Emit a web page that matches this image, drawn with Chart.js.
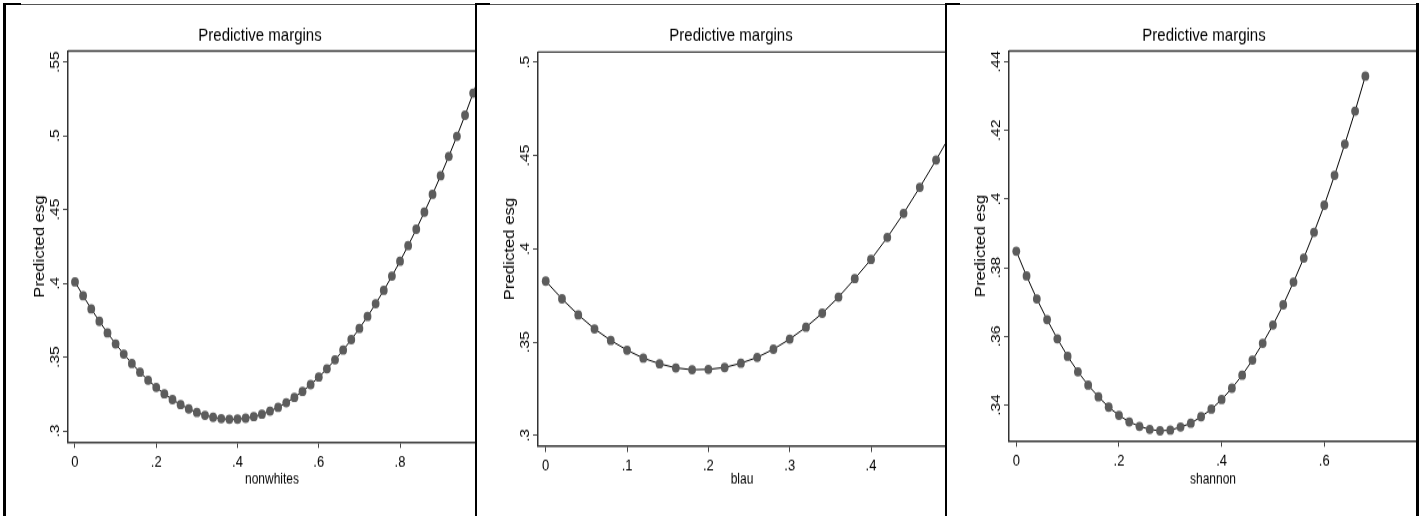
<!DOCTYPE html>
<html>
<head>
<meta charset="utf-8">
<script src="https://cdn.jsdelivr.net/npm/chart.js@4.4.1/dist/chart.umd.min.js"></script>
<style>
  body { margin: 0; background: #fff; width: 1424px; height: 516px; position: relative; overflow: hidden; }
  .panel { position: absolute; top: 0; height: 516px; overflow: hidden; }
  .panel canvas { position: absolute; left: 0; top: 0; transform: scaleY(1.2); transform-origin: 0 0; }
  .ln { position: absolute; background: #000; }
</style>
</head>
<body>
<div class="panel" style="left:7px;width:468px"><canvas id="c1" width="506" height="430"></canvas></div>
<div class="panel" style="left:477px;width:468px"><canvas id="c2" width="508" height="430"></canvas></div>
<div class="panel" style="left:947px;width:469px"><canvas id="c3" width="514" height="430"></canvas></div>

<!-- рамка вокруг графиков -->
<div class="ln" style="left:3px;top:4px;width:1416px;height:1px;background:#555"></div>
<div class="ln" style="left:3px;top:3px;width:18px;height:2px"></div>
<div class="ln" style="left:476px;top:3px;width:14px;height:2px"></div>
<div class="ln" style="left:946px;top:3px;width:14px;height:2px"></div>
<div class="ln" style="left:3px;top:3px;width:3px;height:513px"></div>
<div class="ln" style="left:475px;top:3px;width:2px;height:513px"></div>
<div class="ln" style="left:945px;top:3px;width:2px;height:513px"></div>
<div class="ln" style="left:1416px;top:3px;width:3px;height:513px"></div>

<script>
// ======== Данные ========
const nonwhitesX = [0, .02, .04, .06, .08, .10, .12, .14, .16, .18, .20, .22, .24, .26, .28, .30, .32, .34, .36, .38,
  .40, .42, .44, .46, .48, .50, .52, .54, .56, .58, .60, .62, .64, .66, .68, .70, .72, .74, .76, .78,
  .80, .82, .84, .86, .88, .90, .92, .94, .96, .98, 1.0];
const nonwhitesY = [.4010, .3916, .3827, .3743, .3664, .3590, .3521, .3457, .3398, .3344, .3295, .3251, .3212, .3178,
  .3149, .3125, .3106, .3092, .3083, .3079, .3080, .3086, .3097, .3113, .3134, .3160, .3191, .3227, .3268,
  .3314, .3365, .3421, .3482, .3548, .3619, .3695, .3776, .3862, .3953, .4049, .4150, .4256, .4367, .4483,
  .4604, .4730, .4861, .4997, .5140, .5290, .5440];

const blauX = [0, .02, .04, .06, .08, .10, .12, .14, .16, .18, .20, .22, .24, .26, .28, .30, .32, .34, .36, .38,
  .40, .42, .44, .46, .48, .50];
const blauY = [.3827, .3732, .3646, .3571, .3509, .3457, .3414, .3384, .3362, .3352, .3354, .3364, .3387, .3418,
  .3462, .3516, .3580, .3655, .3741, .3840, .3943, .4061, .4190, .4330, .4476, .4630];

const shannonX = [0, .02, .04, .06, .08, .10, .12, .14, .16, .18, .20, .22, .24, .26, .28, .30, .32, .34, .36, .38,
  .40, .42, .44, .46, .48, .50, .52, .54, .56, .58, .60, .62, .64, .66, .68];
const shannonY = [.3848, .3776, .3709, .3649, .3593, .3542, .3497, .3458, .3424, .3394, .3370, .3351, .3338, .3329,
  .3325, .3327, .3336, .3347, .3366, .3388, .3416, .3449, .3487, .3531, .3580, .3633, .3692, .3758, .3828,
  .3903, .3982, .4069, .4160, .4256, .4358];

const xTicks1 = [0, .2, .4, .6, .8];
const xLabels1 = ['0', '.2', '.4', '.6', '.8'];
const yTicks1 = [.3, .35, .4, .45, .5, .55];
const yLabels1 = ['.3', '.35', '.4', '.45', '.5', '.55'];

const xTicks2 = [0, .1, .2, .3, .4];
const xLabels2 = ['0', '.1', '.2', '.3', '.4'];
const yTicks2 = [.3, .35, .4, .45, .5];
const yLabels2 = ['.3', '.35', '.4', '.45', '.5'];

const xTicks3 = [0, .2, .4, .6];
const xLabels3 = ['0', '.2', '.4', '.6'];
const yTicks3 = [.34, .36, .38, .4, .42, .44];
const yLabels3 = ['.34', '.36', '.38', '.4', '.42', '.44'];

const FONT = 'Liberation Sans, Arial, sans-serif';

// ======== Плагины: рамка сверху и заголовок ========
const frameTop = {
  id: 'frameTop',
  afterDatasetsDraw(chart) {
    const { ctx, chartArea: a } = chart;
    ctx.save();
    ctx.strokeStyle = '#333';
    ctx.lineWidth = 1.3;
    ctx.beginPath();
    ctx.moveTo(a.left, a.top);
    ctx.lineTo(a.right, a.top);
    ctx.stroke();
    ctx.restore();
  }
};

// заголовок по центру всего холста (картинка справа обрезана)
const mainTitle = {
  id: 'mainTitle',
  afterDraw(chart, args, opts) {
    const ctx = chart.ctx;
    ctx.save();
    ctx.fillStyle = '#000';
    ctx.font = `15px ${FONT}`;
    ctx.textAlign = 'center';
    ctx.textBaseline = 'middle';
    ctx.fillText(opts.text, chart.width / 2, opts.y);
    ctx.restore();
  }
};

// ======== Один график ========
function makePanel(id, xs, ys, xTitle, xRange, yRange, xTicks, xLabels, yTicks, yLabels, g) {
  const pts = xs.map((x, i) => ({ x, y: ys[i] }));

  new Chart(document.getElementById(id), {
    type: 'scatter',
    data: {
      datasets: [{
        data: pts,
        showLine: true,
        borderColor: '#000',
        borderWidth: 1,
        pointRadius: 3.9,
        pointBorderWidth: 0,
        pointBackgroundColor: '#5c5c5c',
        tension: 0
      }]
    },
    options: {
      responsive: false,
      animation: false,
      layout: { padding: { left: 0, right: g.padRight, top: g.padTop, bottom: 0 } },
      plugins: {
        legend: { display: false },
        tooltip: { enabled: false },
        title: { display: false },
        mainTitle: { text: 'Predictive margins', y: 29.4 }
      },
      scales: {
        x: {
          type: 'linear',
          min: xRange[0],
          max: xRange[1],
          afterBuildTicks: s => { s.ticks = xTicks.map(v => ({ value: v })); },
          afterFit: s => { s.height = g.xHeight; },
          ticks: {
            callback: (v, i) => xLabels[i],
            color: '#000',
            font: { family: FONT, size: 13 },
            padding: 4,
            maxRotation: 0,
            autoSkip: false
          },
          grid: { drawOnChartArea: false, drawTicks: true, tickLength: 5, tickColor: '#444', tickWidth: 1 },
          border: { display: true, color: '#333', width: 1.5 },
          title: {
            display: true,
            text: xTitle,
            color: '#000',
            font: { family: FONT, size: 12 },
            padding: { top: 0, bottom: g.xTitlePad }
          }
        },
        y: {
          type: 'linear',
          min: yRange[0],
          max: yRange[1],
          afterBuildTicks: s => { s.ticks = yTicks.map(v => ({ value: v })); },
          afterFit: s => { s.width = g.yWidth; },
          ticks: {
            callback: (v, i) => yLabels[i],
            color: '#000',
            font: { family: FONT, size: 13 },
            minRotation: 90,
            maxRotation: 90,
            crossAlign: 'center',
            padding: -1,
            autoSkip: false
          },
          grid: { drawOnChartArea: false, drawTicks: true, tickLength: 5, tickColor: '#444', tickWidth: 1 },
          border: { display: true, color: '#333', width: 1.5 },
          title: {
            display: true,
            text: 'Predicted esg',
            color: '#000',
            font: { family: FONT, size: 14 },
            padding: { top: g.yTitlePad, bottom: 0 }
          }
        }
      }
    },
    plugins: [frameTop, mainTitle]
  });
}

// ======== Построение ========
makePanel('c1', nonwhitesX, nonwhitesY, 'nonwhites', [-0.0172, 0.987], [0.2925, 0.5575],
  xTicks1, xLabels1, yTicks1, yLabels1,
  { padRight: 37, padTop: 42.5, xHeight: 61.7, yWidth: 61, xTitlePad: 22.8, yTitlePad: 24.3 });

makePanel('c2', blauX, blauY, 'blau', [-0.0095, 0.4922], [0.2943, 0.5055],
  xTicks2, xLabels2, yTicks2, yLabels2,
  { padRight: 39, padTop: 43.3, xHeight: 58.3, yWidth: 61, xTitlePad: 22.8, yTitlePad: 24.3 });

makePanel('c3', shannonX, shannonY, 'shannon', [-0.0142, 0.7806], [0.3296, 0.4431],
  xTicks3, xLabels3, yTicks3, yLabels3,
  { padRight: 44, padTop: 42.5, xHeight: 62.7, yWidth: 62, xTitlePad: 22.8, yTitlePad: 25.6 });
</script>
</body>
</html>
